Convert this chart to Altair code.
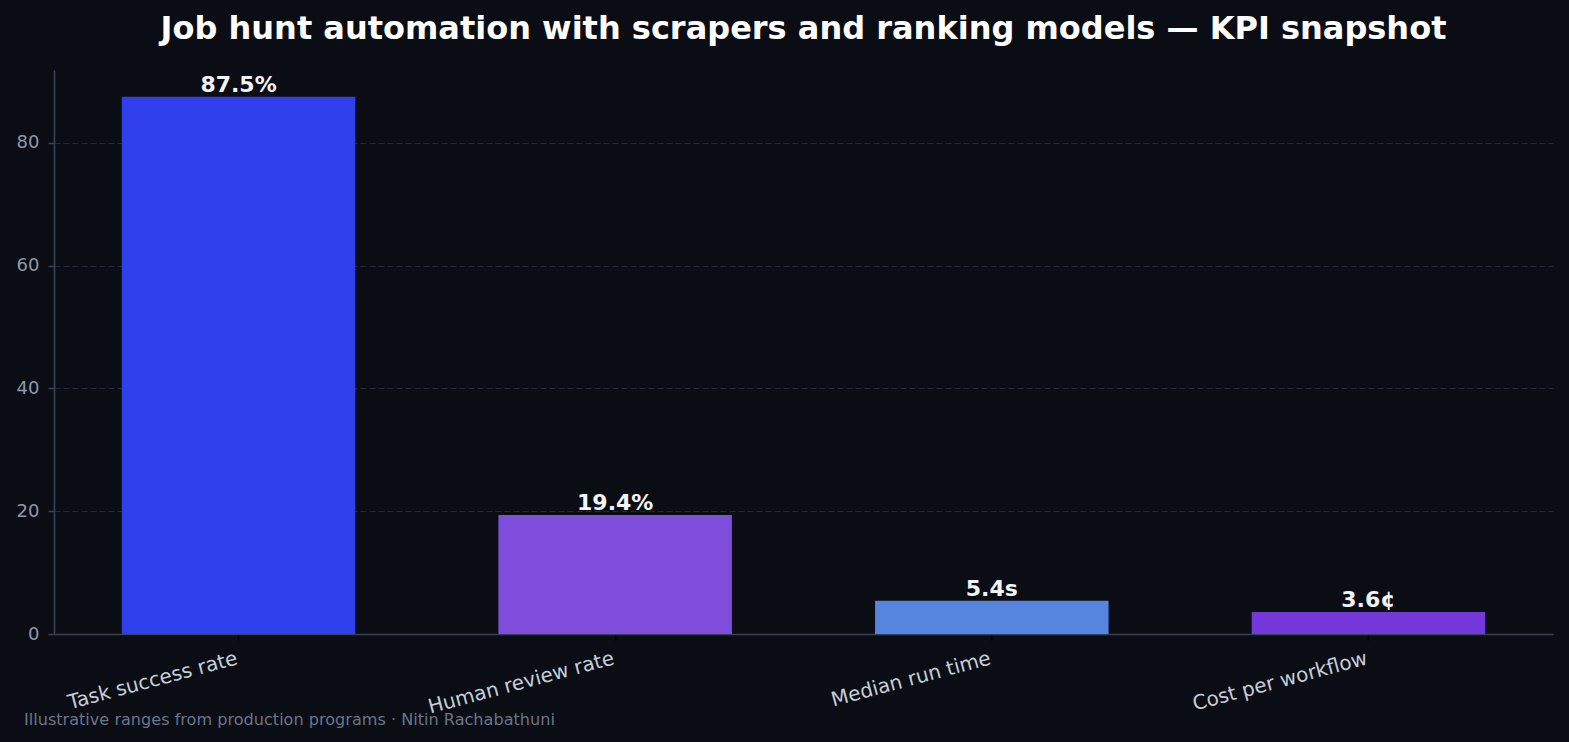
import altair as alt
import pandas as pd

# KPI values for the automation workflow
metrics = ["Task success rate", "Human review rate", "Median run time", "Cost per workflow"]
values = [87.5, 19.4, 5.4, 3.6]
value_labels = ["87.5%", "19.4%", "5.4s", "3.6¢"]
bar_colors = ["#2e3feb", "#7f4ddc", "#5685e0", "#7437da"]

title_text = "Job hunt automation with scrapers and ranking models — KPI snapshot"
footer_text = "Illustrative ranges from production programs · Nitin Rachabathuni"

FONT = "DejaVu Sans"
BG = "#0a0d14"
SPINE = "#3a4252"

df = pd.DataFrame({
    "metric": metrics,
    "value": values,
    "label": value_labels,
    "color": bar_colors,
})

W, H = 1499, 564
y_max = max(values) * 1.05

x_enc = alt.X(
    "metric:N",
    sort=metrics,
    title=None,
    scale=alt.Scale(paddingInner=0.38, paddingOuter=0.18),
    axis=alt.Axis(
        labelAngle=-15,
        labelAlign="right",
        labelBaseline="top",
        labelColor="#c6cdd9",
        labelFont=FONT,
        labelFontSize=20,
        labelPadding=8,
        labelOffset=-4,
        labelLimit=0,
        tickColor="#000000",
        tickSize=6,
        tickWidth=1.5,
        domainColor=SPINE,
        domainWidth=1.6,
        grid=False,
    ),
)

y_enc = alt.Y(
    "value:Q",
    title=None,
    scale=alt.Scale(domain=[0, y_max], nice=False, zero=True),
    axis=alt.Axis(
        values=[0, 20, 40, 60, 80],
        labelColor="#8f99aa",
        labelFont=FONT,
        labelFontSize=18,
        labelPadding=9,
        tickColor=SPINE,
        tickSize=6,
        tickWidth=1.5,
        domainColor=SPINE,
        domainWidth=1.6,
        grid=True,
        gridColor="#212a3d",
        gridDash=[6, 3],
        gridWidth=1.2,
    ),
)

bars = alt.Chart(df).mark_bar(cornerRadius=0).encode(
    x=x_enc,
    y=y_enc,
    color=alt.Color("color:N", scale=None),
)

labels = alt.Chart(df).mark_text(
    baseline="alphabetic",
    dy=-5,
    font=FONT,
    fontSize=22,
    fontWeight="bold",
    color="#f2f4f8",
).encode(
    x=alt.X("metric:N", sort=metrics),
    y="value:Q",
    text="label:N",
)

footer = alt.Chart(pd.DataFrame({"note": [footer_text]})).mark_text(
    align="left",
    baseline="middle",
    font=FONT,
    fontSize=16.1,
    color="#6b7588",
).encode(
    x=alt.value(-30),
    y=alt.value(H + 86),
    text="note:N",
)

chart = alt.layer(bars, labels, footer).properties(
    width=W,
    height=H,
    background=BG,
    padding={"left": 54, "top": 70, "right": 16, "bottom": 108},
    autosize=alt.AutoSizeParams(type="none"),
    title=alt.TitleParams(
        title_text,
        anchor="middle",
        frame="group",
        font=FONT,
        fontSize=32,
        fontWeight="bold",
        color="#ffffff",
        offset=24,
    ),
).configure_view(stroke=None)

chart.save("out.html", embed_options={"renderer": "svg", "actions": False})
